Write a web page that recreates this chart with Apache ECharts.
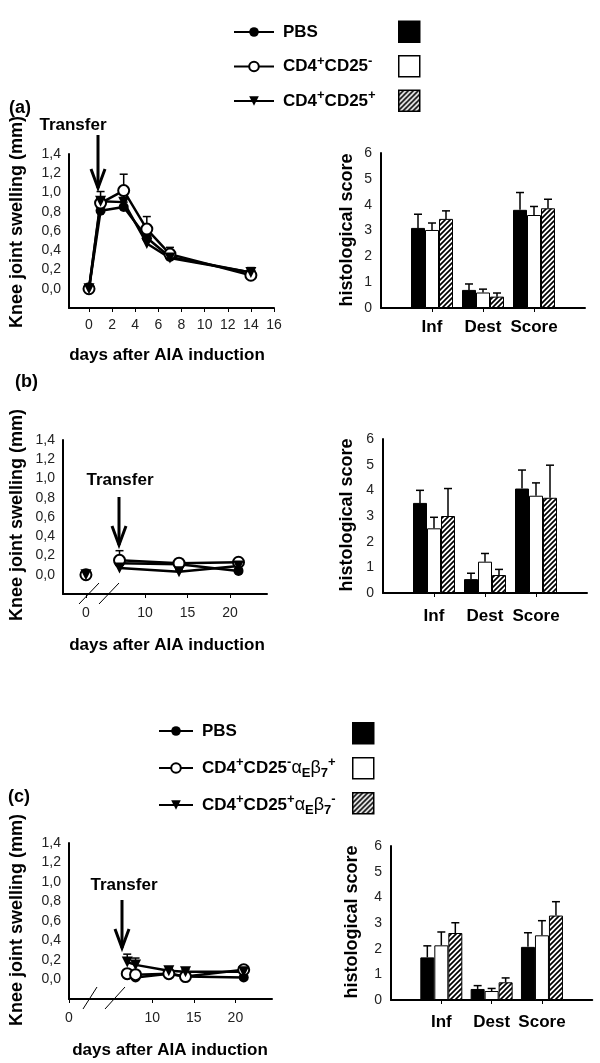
<!DOCTYPE html>
<html><head><meta charset="utf-8">
<script src="https://cdn.jsdelivr.net/npm/echarts@6/dist/echarts.min.js"></script>
<style>html,body{margin:0;padding:0;background:#fff}#c{width:600px;height:1063px}</style>
</head><body><div id="c"></div>
<script>
// ---------------- data ----------------
const nPBS = 'PBS';
const nNeg = 'CD4+CD25-';
const nPos = 'CD4+CD25+';
const nNegAE = 'CD4+CD25-αEβ7+';
const nPosAE = 'CD4+CD25+αEβ7-';

// (a) knee swelling
const daysA = [0, 1, 3, 5, 7, 14];
const pbsA = [0, 0.81, 0.85, 0.53, 0.33, 0.17];
const negA = [0, 0.89, 1.02, 0.62, 0.36, 0.14];
const posA = [0, 0.91, 0.90, 0.47, 0.32, 0.17];
const errPbsA = [0, 0.04, 0.05, 0.05, 0.03, 0.03];
const errNegA = [0, 0.05, 0.17, 0.13, 0.07, 0.03];
const errPosA = [0, 0.10, 0.15, 0.05, 0.03, 0.05];

// (b) knee swelling
const daysB = [0, 7, 14, 21];
const pbsB = [0, 0.12, 0.11, 0.04];
const negB = [0, 0.15, 0.12, 0.13];
const posB = [0, 0.07, 0.03, 0.09];
const errPbsB = [0, 0.03, 0.02, 0.02];
const errNegB = [0, 0.10, 0.02, 0.02];
const errPosB = [0, 0.03, 0.02, 0.02];

// (c) knee swelling
const daysC = [7, 8, 12, 14, 21];
const pbsC = [0.05, 0.02, 0.06, 0.03, 0.02];
const negC = [0.06, 0.05, 0.06, 0.03, 0.10];
const posC = [0.18, 0.15, 0.09, 0.08, 0.08];
const errPbsC = [0.02, 0.02, 0.02, 0.02, 0.02];
const errNegC = [0.02, 0.02, 0.02, 0.02, 0.02];
const errPosC = [0.08, 0.07, 0.02, 0.02, 0.02];

// histology
const histCats = ['Inf', 'Dest', 'Score'];
const pbsHistA = [3.10, 0.70, 3.80];  const errPbsHistA = [0.53, 0.23, 0.67];
const negHistA = [3.02, 0.60, 3.60];  const errNegHistA = [0.27, 0.13, 0.33];
const posHistA = [3.45, 0.44, 3.86];  const errPosHistA = [0.31, 0.14, 0.35];
const pbsHistB = [3.51, 0.54, 4.07];  const errPbsHistB = [0.49, 0.23, 0.72];
const negHistB = [2.52, 1.22, 3.79];  const errNegHistB = [0.43, 0.32, 0.50];
const posHistB = [3.00, 0.70, 3.71];  const errPosHistB = [1.07, 0.22, 1.27];
const pbsHistC = [1.66, 0.43, 2.07];  const errPbsHistC = [0.45, 0.13, 0.55];
const negHistC = [2.13, 0.35, 2.52];  const errNegHistC = [0.52, 0.10, 0.57];
const posHistC = [2.61, 0.69, 3.29];  const errPosHistC = [0.40, 0.17, 0.54];

// ticks
const dayTicksA = [0, 2, 4, 6, 8, 10, 12, 14, 16];
const dayTicksB0 = [0];
const dayTicksB = [10, 15, 20];
const dayTicksC = [0, 10, 15, 20];

// ---------------- styling helpers ----------------
const FONT = "'Liberation Sans', Arial, sans-serif";
const BW = 14; // bar width px

function hatchCanvas() {
  const s = 5;
  const c = document.createElement('canvas');
  c.width = s; c.height = s;
  const g = c.getContext('2d');
  g.fillStyle = '#fff'; g.fillRect(0, 0, s, s);
  g.strokeStyle = '#000'; g.lineWidth = 1.7;
  g.beginPath();
  g.moveTo(0, s); g.lineTo(s, 0);
  g.moveTo(-2, 2); g.lineTo(2, -2);
  g.moveTo(s - 2, s + 2); g.lineTo(s + 2, s - 2);
  g.stroke();
  return c;
}
const HATCH = { image: hatchCanvas(), repeat: 'repeat' };

const symPBS = { symbol: 'circle', size: 10, rotate: 0 };
const symNeg = { symbol: 'emptyCircle', size: 11, rotate: 0 };
const symPos = { symbol: 'triangle', size: 11, rotate: 180 };

const grids = [
  { left: 69, top: 154, width: 205, height: 154 },   // 0 a line
  { left: 381, top: 153, width: 204, height: 155 },  // 1 a bar
  { left: 63, top: 440, width: 35, height: 154 },    // 2 b line left
  { left: 98, top: 440, width: 169, height: 154 },   // 3 b line right
  { left: 383, top: 439, width: 204, height: 154 },  // 4 b bar
  { left: 69, top: 843, width: 203, height: 156 },   // 5 c line
  { left: 391, top: 846, width: 202, height: 154 }   // 6 c bar
];

const axLine = { show: true, onZero: false, lineStyle: { color: '#000', width: 2 } };
const tickLbl = { fontSize: 14, color: '#222', fontFamily: FONT };

function swellY(gi, show) {
  return {
    type: 'value', gridIndex: gi, min: -0.2, max: 1.4, interval: 0.2,
    show: show, axisLine: axLine, axisTick: { show: false }, splitLine: { show: false },
    axisLabel: Object.assign({ margin: 8, formatter: v => v < -0.01 ? '' : v.toFixed(1).replace('.', ',') }, tickLbl)
  };
}
function dayX(gi, min, max, ticks, margin) {
  return {
    type: 'value', gridIndex: gi, min: min, max: max,
    axisLine: axLine, splitLine: { show: false },
    axisTick: { show: true, length: 4, customValues: ticks, lineStyle: { color: '#000', width: 1 } },
    axisLabel: Object.assign({ customValues: ticks, margin: margin }, tickLbl)
  };
}
function scoreY(gi) {
  return {
    type: 'value', gridIndex: gi, min: 0, max: 6, interval: 1,
    axisLine: axLine, axisTick: { show: false }, splitLine: { show: false },
    axisLabel: Object.assign({ margin: 9 }, tickLbl)
  };
}
function catX(gi, margin) {
  return {
    type: 'category', gridIndex: gi, data: [' '].concat(histCats, ['  ']), boundaryGap: false,
    axisLine: axLine,
    axisTick: { show: true, length: 4, interval: (i) => i > 0 && i < 4, lineStyle: { color: '#000', width: 1 } },
    axisLabel: { interval: 0, margin: margin, fontSize: 17, fontWeight: 'bold', color: '#000', fontFamily: FONT }
  };
}

function errRender(dx) {
  return function (params, api) {
    const x = api.value(0), v = api.value(1), e = api.value(2);
    const p0 = api.coord([x, v]), p1 = api.coord([x, v + e]);
    const cx = p0[0] + dx;
    const st = { stroke: '#000', lineWidth: 1.5 };
    return { type: 'group', children: [
      { type: 'line', shape: { x1: cx, y1: p0[1], x2: cx, y2: p1[1] }, style: st },
      { type: 'line', shape: { x1: cx - 4, y1: p1[1], x2: cx + 4, y2: p1[1] }, style: st }
    ] };
  };
}
function lineS(name, days, vals, ai, sym) {
  return {
    type: 'line', name: name, xAxisIndex: ai, yAxisIndex: ai,
    data: days.map((d, i) => [d, vals[i]]),
    symbol: sym.symbol, symbolSize: sym.size, symbolRotate: sym.rotate, showSymbol: true,
    lineStyle: { color: '#000', width: 2.5 }, itemStyle: { color: '#000' }, z: 3
  };
}
function lineErr(days, vals, errs, ai) {
  return {
    type: 'custom', xAxisIndex: ai, yAxisIndex: ai, silent: true, z: 2,
    data: days.map((d, i) => [d, vals[i], errs[i]]).filter(r => r[2] > 0),
    renderItem: errRender(0)
  };
}
function barS(name, vals, ai, color) {
  return {
    type: 'bar', name: name, xAxisIndex: ai, yAxisIndex: ai,
    data: [null].concat(vals, [null]), barWidth: BW, barGap: '0%',
    itemStyle: { color: color, borderColor: '#000', borderWidth: 1 }, z: 2
  };
}
function barErr(vals, errs, ai, k) {
  return {
    type: 'custom', xAxisIndex: ai, yAxisIndex: ai, silent: true, z: 3,
    data: histCats.map((c, i) => [c, vals[i], errs[i]]),
    renderItem: errRender((k - 1) * BW)
  };
}

const series = [];
// (a) lines
series.push(lineErr(daysA, pbsA, errPbsA, 0), lineErr(daysA, negA, errNegA, 0), lineErr(daysA, posA, errPosA, 0));
series.push(lineS(nPBS, daysA, pbsA, 0, symPBS), lineS(nNeg, daysA, negA, 0, symNeg), lineS(nPos, daysA, posA, 0, symPos));
// (b) lines: day 0 left of the break, rest right
[[pbsB, errPbsB, nPBS, symPBS], [negB, errNegB, nNeg, symNeg], [posB, errPosB, nPos, symPos]].forEach(([v, e, n, s]) => {
  series.push(lineS(n, daysB.slice(0, 1), v.slice(0, 1), 2, s));
  series.push(lineErr(daysB.slice(1), v.slice(1), e.slice(1), 3));
  series.push(lineS(n, daysB.slice(1), v.slice(1), 3, s));
});
// (c) lines
series.push(lineErr(daysC, pbsC, errPbsC, 5), lineErr(daysC, negC, errNegC, 5), lineErr(daysC, posC, errPosC, 5));
series.push(lineS(nPBS, daysC, pbsC, 5, symPBS), lineS(nNegAE, daysC, negC, 5, symNeg), lineS(nPosAE, daysC, posC, 5, symPos));
// bars
const hb = ' histology';
[[1, [pbsHistA, negHistA, posHistA], [errPbsHistA, errNegHistA, errPosHistA], [nPBS, nNeg, nPos]],
 [4, [pbsHistB, negHistB, posHistB], [errPbsHistB, errNegHistB, errPosHistB], [nPBS, nNeg, nPos]],
 [6, [pbsHistC, negHistC, posHistC], [errPbsHistC, errNegHistC, errPosHistC], [nPBS, nNegAE, nPosAE]]
].forEach(([ai, vals, errs, names]) => {
  const cols = ['#000', '#fff', HATCH];
  for (let k = 0; k < 3; k++) series.push(barS(names[k] + hb, vals[k], ai, cols[k]));
  for (let k = 0; k < 3; k++) series.push(barErr(vals[k], errs[k], ai, k));
});

// legends
const richLabel = {
  [nPBS]: 'PBS',
  [nNeg]: 'CD4{sup|+}CD25{sup|-}',
  [nPos]: 'CD4{sup|+}CD25{sup|+}',
  [nNegAE]: 'CD4{sup|+}CD25{sup|-}{gr|α}{sub|E}{gr|β}{sub|7}{sup|+}',
  [nPosAE]: 'CD4{sup|+}CD25{sup|+}{gr|α}{sub|E}{gr|β}{sub|7}{sup|-}'
};
const legendText = {
  fontSize: 17, fontWeight: 'bold', fontFamily: FONT, color: '#000', lineHeight: 24, padding: [0, 0, 0, 4],
  rich: {
    sup: { fontSize: 13, fontWeight: 'bold', fontFamily: FONT, color: '#000', lineHeight: 13, verticalAlign: 'top' },
    sub: { fontSize: 13, fontWeight: 'bold', fontFamily: FONT, color: '#000', lineHeight: 13, verticalAlign: 'bottom' },
    gr: { fontSize: 18, fontWeight: 'normal', fontFamily: FONT, color: '#000', lineHeight: 24 }
  }
};
function lineLegend(names, left, top, w, gap) {
  return {
    data: names, orient: 'vertical', left: left, top: top, padding: 0, itemWidth: w, itemHeight: 12, itemGap: gap,
    selectedMode: false, formatter: n => richLabel[n], textStyle: legendText,
    lineStyle: { width: 2 }
  };
}
function boxLegend(names, left, top, gap) {
  return {
    data: names.map(n => n + hb), orient: 'vertical', left: left, top: top, padding: 0, itemWidth: 21, itemHeight: 21, itemGap: gap,
    selectedMode: false, icon: 'rect', formatter: () => '', textStyle: { fontSize: 8 },
    itemStyle: { borderColor: '#000', borderWidth: 1.5 }
  };
}

// decorations / titles
function gText(text, x, y, size, rot, align) {
  return { type: 'text', x: x, y: y, rotation: rot || 0, silent: true,
    style: { text: text, fontSize: size, fontWeight: 'bold', fontFamily: FONT, fill: '#000',
      align: align || 'center', verticalAlign: 'middle', textAlign: align || 'center', textVerticalAlign: 'middle' } };
}
function arrow(x, y1, y2) {
  const st = { stroke: '#000', lineWidth: 3, fill: null };
  return [
    { type: 'polyline', silent: true, shape: { points: [[x, y1], [x, y2]] }, style: st },
    { type: 'polyline', silent: true, shape: { points: [[x - 7, y2 - 19], [x, y2], [x + 7, y2 - 19]] }, style: st }
  ];
}
function slash(x1, y1, x2, y2) {
  return { type: 'line', silent: true, shape: { x1: x1, y1: y1, x2: x2, y2: y2 }, style: { stroke: '#000', lineWidth: 1 } };
}
const V = Math.PI / 2;
const graphic = [
  gText('(a)', 9, 108, 18, 0, 'left'),
  gText('(b)', 15, 382, 18, 0, 'left'),
  gText('(c)', 8, 797, 18, 0, 'left'),
  gText('Transfer', 73, 125, 17),
  gText('Transfer', 120, 480, 17),
  gText('Transfer', 124, 885, 17),
  gText('Knee joint swelling (mm)', 17, 222, 18, V),
  gText('Knee joint swelling (mm)', 17, 515, 18, V),
  gText('Knee joint swelling (mm)', 17, 920, 18, V),
  gText('histological score', 347, 230, 18, V),
  gText('histological score', 347, 515, 18, V),
  gText('histological score', 352, 922, 18, V),
  gText('days after AIA induction', 167, 355, 17),
  gText('days after AIA induction', 167, 645, 17),
  gText('days after AIA induction', 170, 1050, 17),
  slash(79, 604, 99, 583), slash(99, 604, 119, 583),
  slash(83, 1009, 97, 987), slash(105, 1009, 125, 987)
].concat(arrow(98, 135, 188), arrow(119, 497, 545), arrow(122, 900, 948));

const option = {
  backgroundColor: '#fff',
  animation: false,
  grid: grids,
  xAxis: [
    dayX(0, -1.73, 16, dayTicksA, 10),
    catX(1, 11),
    dayX(2, -2.7, 1.42, dayTicksB0, 12),
    dayX(3, 4.47, 24.35, dayTicksB, 12),
    catX(4, 15),
    dayX(5, 0, 24.4, dayTicksC, 12),
    catX(6, 14)
  ],
  yAxis: [
    swellY(0, true), scoreY(1), swellY(2, true), swellY(3, false), scoreY(4), swellY(5, true), scoreY(6)
  ],
  legend: [
    lineLegend([nPBS, nNeg, nPos], 233, 20, 40, 10.5),
    boxLegend([nPBS, nNeg, nPos], 398, 20.5, 12),
    lineLegend([nPBS, nNegAE, nPosAE], 158, 719, 34, 13),
    boxLegend([nPBS, nNegAE, nPosAE], 352, 722, 12.5)
  ],
  graphic: graphic,
  series: series
};
const chart = echarts.init(document.getElementById('c'), null, { renderer: 'canvas' });
chart.setOption(option);
</script>
</body></html>
